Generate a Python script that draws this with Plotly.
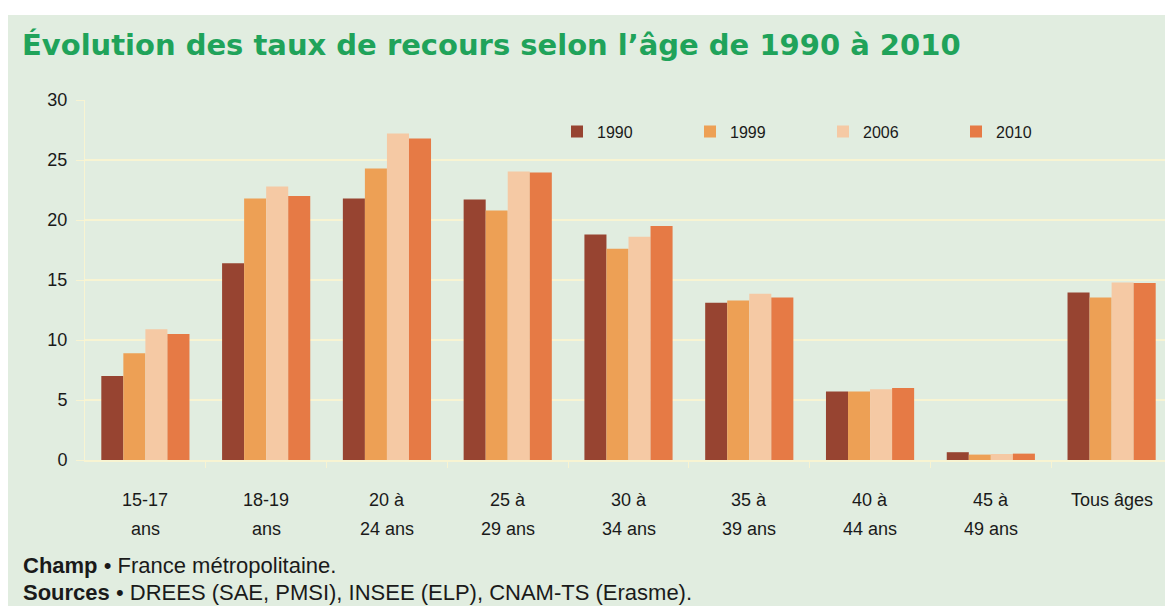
import plotly.graph_objects as go

categories = ["15-17 ans", "18-19 ans", "20 à 24 ans", "25 à 29 ans", "30 à 34 ans",
              "35 à 39 ans", "40 à 44 ans", "45 à 49 ans", "Tous âges"]
label_line1 = ["15-17", "18-19", "20 à", "25 à", "30 à", "35 à", "40 à", "45 à", "Tous âges"]
label_line2 = ["ans", "ans", "24 ans", "29 ans", "34 ans", "39 ans", "44 ans", "49 ans", ""]
years = ["1990", "1999", "2006", "2010"]
v1990 = [7.0, 16.4, 21.8, 21.7, 18.8, 13.1, 5.7, 0.65, 13.95]
v1999 = [8.9, 21.8, 24.3, 20.8, 17.6, 13.3, 5.7, 0.45, 13.55]
v2006 = [10.9, 22.8, 27.2, 24.05, 18.6, 13.85, 5.9, 0.5, 14.8]
v2010 = [10.5, 22.0, 26.8, 23.95, 19.5, 13.55, 6.0, 0.53, 14.75]
series = [v1990, v1999, v2006, v2010]
colors = ["#974431", "#eda055", "#f5c9a4", "#e67a45"]
yticks = [0, 5, 10, 15, 20, 25, 30]

BG = "#e1ede0"
GRID = "#f8f4d2"
TXT = "#1a1a1a"
FONT = "Liberation Sans, Arial, sans-serif"

fig = go.Figure()
for name, vals, col in zip(years, series, colors):
    fig.add_trace(go.Bar(x=categories, y=vals, name=name, marker_color=col,
                         marker_line_width=0))

# page body has an 8px margin: figure coords = screen coords - 8
OFF = 8
W, H = 1165, 598
L, R, T, B = 85 - OFF, 1, 100 - OFF, H - (460 - OFF)
pw = W - L - R
ph = H - T - B

def px(sx):
    return (sx - OFF - L) / pw

def py(sy):
    return (H - B - (sy - OFF)) / ph

fig.update_layout(
    width=W, height=H,
    margin=dict(l=L, r=R, t=T, b=B, autoexpand=False),
    paper_bgcolor="white",
    plot_bgcolor="rgba(0,0,0,0)",
    barmode="group", bargap=0.27, bargroupgap=0,
    font=dict(family=FONT, size=16, color=TXT),
    showlegend=True,
    legend=dict(orientation="h", x=px(557), xanchor="left", y=py(131.5), yanchor="middle",
                bgcolor="rgba(0,0,0,0)", entrywidth=88, entrywidthmode="pixels",
                font=dict(family=FONT, size=16, color=TXT), itemclick=False,
                itemdoubleclick=False),
    xaxis=dict(showgrid=False, showline=True, linecolor=GRID, linewidth=2,
               ticks="outside", tickcolor=GRID, ticklen=6, tickwidth=1,
               tickmode="array", tickvals=[i + 0.5 for i in range(len(categories) - 1)],
               ticktext=[""] * (len(categories) - 1),
               range=[-0.5, len(categories) - 0.5], fixedrange=True),
    yaxis=dict(range=[0, 30], tickvals=yticks, showgrid=True, gridcolor=GRID, gridwidth=2,
               showline=True, linecolor=GRID, linewidth=1, zeroline=False,
               ticks="outside", tickcolor=GRID, ticklen=8, ticklabelstandoff=5,
               tickfont=dict(family=FONT, size=18, color=TXT), fixedrange=True),
)

# background panel
fig.add_shape(type="rect", xref="paper", yref="paper", x0=px(0), x1=px(W + 20),
              y0=py(H + 20), y1=py(15), fillcolor=BG, line_width=0, layer="below")

# category labels, two lines each
for c, l1, l2 in zip(categories, label_line1, label_line2):
    fig.add_annotation(x=c, y=py(499.5), xref="x", yref="paper", text=l1, showarrow=False,
                       yanchor="middle", xanchor="center",
                       font=dict(family=FONT, size=18, color=TXT))
    if l2:
        fig.add_annotation(x=c, y=py(529), xref="x", yref="paper", text=l2, showarrow=False,
                           yanchor="middle", xanchor="center",
                           font=dict(family=FONT, size=18, color=TXT))

fig.add_annotation(x=px(20), y=py(45), xref="paper", yref="paper",
                   text="<b>Évolution des taux de recours selon l’âge de 1990 à 2010</b>",
                   showarrow=False, xanchor="left", yanchor="middle",
                   font=dict(family="DejaVu Sans, Verdana, sans-serif", size=29, color="#20a35a"))
fig.add_annotation(x=px(21), y=py(565), xref="paper", yref="paper",
                   text="<b>Champ</b> • France métropolitaine.",
                   showarrow=False, xanchor="left", yanchor="middle",
                   font=dict(family=FONT, size=22, color=TXT))
fig.add_annotation(x=px(21), y=py(592), xref="paper", yref="paper",
                   text="<b>Sources</b> • DREES (SAE, PMSI), INSEE (ELP), CNAM-TS (Erasme).",
                   showarrow=False, xanchor="left", yanchor="middle",
                   font=dict(family=FONT, size=22, color=TXT))

fig.write_html("out.html")
